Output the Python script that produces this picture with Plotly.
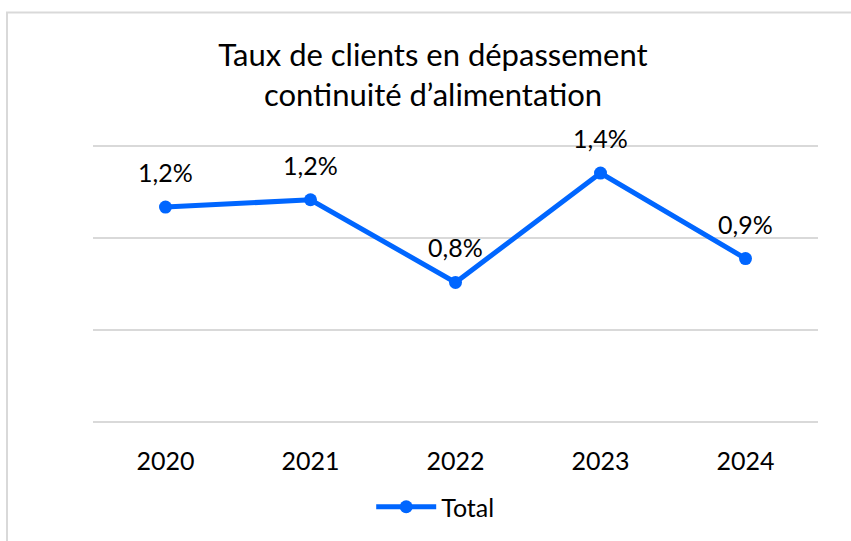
import plotly.graph_objects as go

years = [2020, 2021, 2022, 2023, 2024]
year_labels = ["2020", "2021", "2022", "2023", "2024"]
total = [1.17, 1.21, 0.76, 1.355, 0.89]
series_name = "Total"
title_lines = ["Taux de clients en dépassement", "continuité d’alimentation"]
grid_vals = [0, 0.5, 1.0, 1.5]

BLUE = "#0066FF"
GRID = "#D9D9D9"
FONT = "Lato, Carlito, Calibri, sans-serif"

labels = [f"{v:.1f}".replace(".", ",") + "%" for v in total]

fig = go.Figure()
fig.add_trace(go.Scatter(
    x=years, y=total, name=series_name, mode="lines+markers",
    line=dict(color=BLUE, width=5),
    marker=dict(color=BLUE, size=13),
))

for xv, yv, t in zip(years, total, labels):
    fig.add_annotation(x=xv, y=yv, text=t, showarrow=False, yshift=35,
                       xanchor="center", yanchor="middle",
                       font=dict(family=FONT, size=25, color="#000000"))

PLOT_TOP, PLOT_BOTTOM = 143, 427
PH = PLOT_BOTTOM - PLOT_TOP

fig.update_layout(
    width=851, height=541,
    margin=dict(l=93, r=33, t=PLOT_TOP, b=541 - PLOT_BOTTOM),
    paper_bgcolor="white", plot_bgcolor="white",
    title=dict(text="<br>".join(title_lines), x=(433) / 851, xanchor="center",
               y=1 - 66 / 541, yanchor="middle",
               font=dict(family=FONT, size=31, color="#000000")),
    showlegend=True,
    legend=dict(orientation="h", x=0.472, xanchor="center",
                y=(PLOT_BOTTOM - 507) / PH, yanchor="middle",
                font=dict(family=FONT, size=25, color="#000000"),
                itemwidth=60),
    font=dict(family=FONT),
)
fig.update_xaxes(type="linear", range=[years[0] - 0.5, years[-1] + 0.5],
                 tickvals=years, ticktext=year_labels,
                 showgrid=False, showline=False, zeroline=False,
                 ticks="", ticklabelstandoff=18,
                 tickfont=dict(family=FONT, size=25, color="#000000"))
fig.update_yaxes(range=[-0.0217, 1.519], tickvals=grid_vals, showticklabels=False,
                 showgrid=True, gridcolor=GRID, gridwidth=2,
                 zeroline=False, showline=False, ticks="")

# outer chart frame (light grey), extending beyond the picture on right/bottom
fig.add_shape(type="rect", xref="paper", yref="paper",
              x0=(7 - 93) / 725, x1=(900 - 93) / 725,
              y0=(PLOT_BOTTOM - 600) / PH, y1=(PLOT_BOTTOM - 12) / PH,
              line=dict(color=GRID, width=2), fillcolor="rgba(0,0,0,0)", layer="below")

fig.write_html("out.html", config={"displayModeBar": False},
               post_script="document.body.style.margin='0';")
